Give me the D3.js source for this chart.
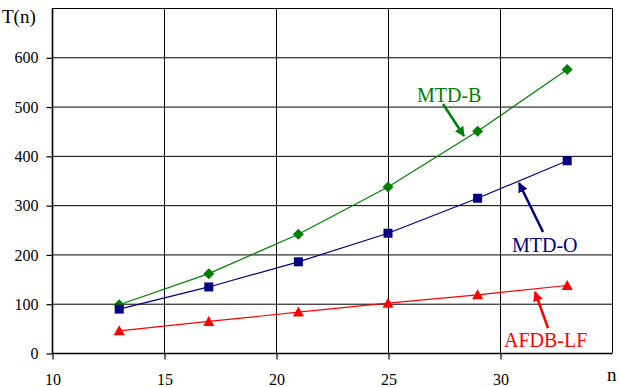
<!DOCTYPE html>
<html><head><meta charset="utf-8">
<script src="https://cdn.jsdelivr.net/npm/d3@7"></script>
<style>body{margin:0;background:#fff}svg{display:block}svg text{font-family:'Liberation Serif','Times New Roman',serif}</style>
</head><body><svg id="c" width="619" height="387" font-family="Liberation Serif"><text x="-100" y="-100" font-family="Liberation Serif" font-size="16"> </text></svg>
<script>
const nValues = [13, 17, 21, 25, 29, 33];
const mtdB = [98, 161, 241, 337, 450, 575];
const mtdO = [89, 134, 185, 243, 314, 390];
const afdbLF = [45, 64, 83, 101, 118, 137];
const xTicks = [10, 15, 20, 25, 30];
const yTicks = [0, 100, 200, 300, 400, 500, 600];
const seriesNames = ["MTD-B", "MTD-O", "AFDB-LF"];
const seriesColors = ["#008000", "#000080", "#ff0000"];

const svg = d3.select("#c");
const L = 52, R = 612, T = 8, B = 353;
const x = d3.scaleLinear().domain([10, 35]).range([L, R]);
const y = d3.scaleLinear().domain([0, 700]).range([B, T]);

// gridlines
const g = svg.append("g");
g.selectAll(".hg").data(yTicks.concat([700])).join("line")
  .attr("x1", L).attr("x2", R).attr("y1", d => y(d)+0.5).attr("y2", d => y(d)+0.5)
  .attr("stroke", "#000").attr("stroke-width", 1);
g.selectAll(".vg").data(xTicks.concat([35])).join("line")
  .attr("y1", T).attr("y2", B).attr("x1", d => x(d)+0.5).attr("x2", d => x(d)+0.5)
  .attr("stroke", "#000").attr("stroke-width", 1);

// axes
const xAxis = d3.axisBottom(x).tickValues(xTicks).tickSize(6).tickPadding(14).tickFormat(d3.format("d"));
const yAxis = d3.axisLeft(y).tickValues(yTicks).tickSize(6).tickPadding(8).tickFormat(d3.format("d"));
const xa = svg.append("g").attr("transform", `translate(0.5,${B+0.5})`).call(xAxis);
const ya = svg.append("g").attr("transform", `translate(${L+0.5},0.5)`).call(yAxis);
[xa, ya].forEach(a => {
  a.attr("font-family", "Liberation Serif").attr("font-size", 16);
  a.select(".domain").attr("stroke", "#000").attr("stroke-width", 1.6);
  a.selectAll(".tick line").attr("stroke", "#000").attr("stroke-width", 1.2);
  a.selectAll(".tick text").attr("font-size", 16).attr("fill", "#000");
});
xa.select(".domain").attr("d", `M${L},0H${R}`);
ya.select(".domain").attr("d", `M0,${T}V${B}`);

svg.append("text").attr("x", 2).attr("y", 23).attr("font-size", 19).text("T(n)");
svg.append("text").attr("x", 607).attr("y", 381).attr("font-size", 19).text("n");

// series
const data = [mtdB, mtdO, afdbLF];
const line = d3.line().x((d, i) => x(nValues[i])).y(d => y(d));
const shapePaths = [
  "M0,-5.5L5.5,0L0,5.5L-5.5,0Z",
  "M-4.5,-4.5H4.5V4.5H-4.5Z",
  "M0,-5.5L5.5,4.5H-5.5Z"
];
data.forEach((vals, si) => {
  svg.append("path").datum(vals).attr("d", line).attr("fill", "none")
    .attr("stroke", seriesColors[si]).attr("stroke-width", 1.2);
  svg.selectAll(".m" + si).data(vals).join("path")
    .attr("transform", (d, i) => `translate(${x(nValues[i])},${y(d)})`)
    .attr("d", shapePaths[si])
    .attr("fill", seriesColors[si]);
});

// annotations
const defs = svg.append("defs");
seriesColors.forEach((c, i) => {
  defs.append("marker").attr("id", "ah" + i).attr("viewBox", "0 0 10 10")
    .attr("refX", 9).attr("refY", 5).attr("markerWidth", 4).attr("markerHeight", 4)
    .attr("orient", "auto").attr("markerUnits", "strokeWidth")
    .append("path").attr("d", "M0,0L10,5L0,10z").attr("fill", c);
});
const ann = [
  {tx: 417, ty: 102, a: [443, 104, 464, 136]},
  {tx: 512, ty: 252, a: [543, 232, 519, 183]},
  {tx: 504, ty: 347, a: [548, 328, 535, 292]}
];
ann.forEach((o, i) => {
  svg.append("text").attr("x", o.tx).attr("y", o.ty).attr("font-size", 20)
    .attr("fill", seriesColors[i]).text(seriesNames[i]);
  svg.append("line").attr("x1", o.a[0]).attr("y1", o.a[1]).attr("x2", o.a[2]).attr("y2", o.a[3])
    .attr("stroke", seriesColors[i]).attr("stroke-width", 2.5).attr("marker-end", `url(#ah${i})`);
});
function applyFont() {
  svg.selectAll("text").attr("font-family", "Liberation Serif")
    .style("font-family", "'Liberation Serif', 'Times New Roman', serif");
}
applyFont();
if (document.fonts && document.fonts.load) {
  document.fonts.load('16px "Liberation Serif"').then(applyFont);
}
</script></body></html>
